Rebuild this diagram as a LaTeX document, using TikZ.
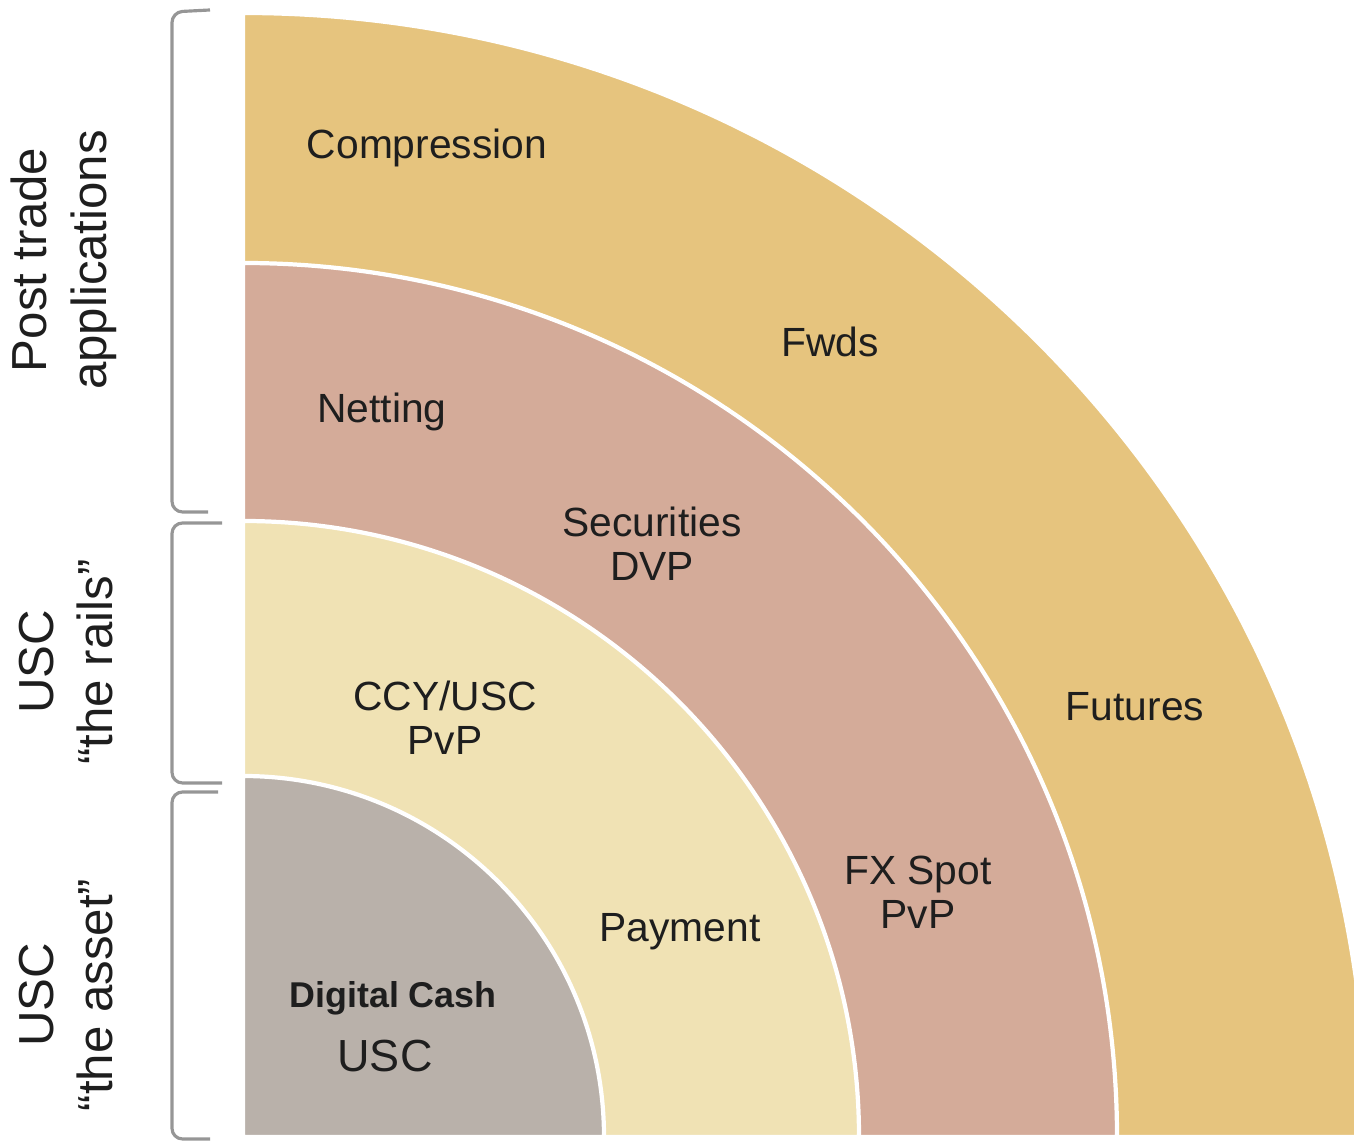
\documentclass[tikz,border=0pt]{standalone}
\usepackage{fontspec}
\setmainfont{Liberation Sans}
\definecolor{futband}{RGB}{230, 196, 126}
\definecolor{secband}{RGB}{212, 171, 153}
\definecolor{railband}{RGB}{240, 226, 180}
\definecolor{cashband}{RGB}{185, 177, 170}
\definecolor{bracegray}{RGB}{150, 150, 150}
\definecolor{labelblack}{RGB}{30, 30, 30}
\usepackage{tikz}
\usetikzlibrary{positioning}

\tikzset{
  band/.style={draw=white, line width=1.2pt},
  lbl/.style={text=labelblack, align=center, inner sep=0pt, font=\fontsize{11.6}{12.6}\selectfont},
  sidelbl/.style={text=labelblack, align=center, inner sep=0pt, rotate=90, font=\fontsize{14}{17}\selectfont},
  bracket/.style={draw=bracegray, line width=0.9pt, rounded corners=3pt}
}

\begin{document}
\begin{tikzpicture}
  \useasboundingbox (0,0) rectangle (13.54,11.41);
  \coordinate (o) at (2.43,0.04);

  % Quarter rings, outermost first
  \begin{scope}
    \clip (0,0) rectangle (13.54,11.41);
    \fill[futband, band] (o) -- ++(11.24,0) arc[start angle=0, end angle=90, radius=11.24] -- cycle;
    \fill[secband, band] (o) -- ++(8.74,0) arc[start angle=0, end angle=90, radius=8.74] -- cycle;
    \fill[railband, band] (o) -- ++(6.16,0) arc[start angle=0, end angle=90, radius=6.16] -- cycle;
    \fill[cashband, band] (o) -- ++(3.61,0) arc[start angle=0, end angle=90, radius=3.61] -- cycle;
  \end{scope}

  % Outer ring
  \node[lbl] (compression) at (4.27,9.93) {Compression};
  \node[lbl] (fwds) at (8.30,7.99) {Fwds};
  \node[lbl] (futures) at (11.35,4.34) {Futures};

  % Second ring
  \node[lbl] (netting) at (3.82,7.29) {Netting};
  \node[lbl] (dvp) at (6.52,5.97) {Securities\\DVP};
  \node[lbl] (fxspot) at (9.18,2.49) {FX Spot\\PvP};

  % Third ring
  \node[lbl] (ccypvp) at (4.45,4.23) {CCY/USC\\PvP};
  \node[lbl] (payment) at (6.80,2.09) {Payment};

  % Core
  \node[lbl, font=\bfseries\fontsize{10.2}{12}\selectfont] (digcash) at (3.93,1.43) {Digital Cash};
  \node[lbl, font=\fontsize{12.8}{14}\selectfont] (usc) at (3.85,0.85) {USC};

  % Side brackets
  \draw[bracket] (2.10,11.31) -- (1.72,11.29) -- (1.72,6.29) -- (2.08,6.29);
  \draw[bracket] (2.22,6.18) -- (1.72,6.18) -- (1.72,3.58) -- (2.22,3.58);
  \draw[bracket] (2.18,3.49) -- (1.72,3.49) -- (1.72,0.02) -- (2.10,0.02);

  % Side labels
  \node[sidelbl] (posttrade) at (0.64,8.81) {Post trade\\applications};
  \node[sidelbl] (rails) at (0.66,4.79) {USC\\“the rails”};
  \node[sidelbl] (asset) at (0.66,1.46) {USC\\“the asset”};
\end{tikzpicture}
\end{document}
